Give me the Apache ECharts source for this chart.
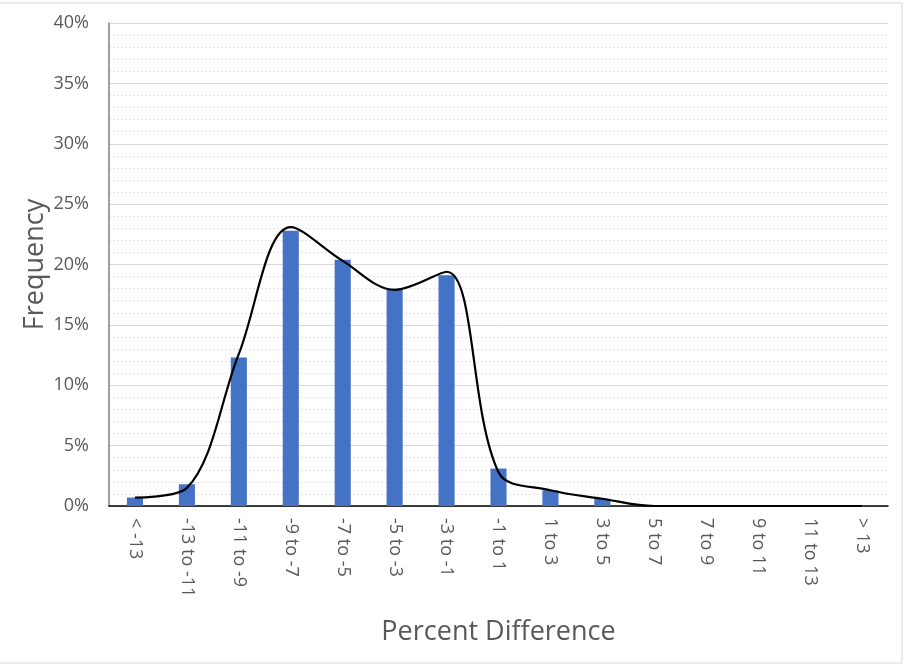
<!DOCTYPE html>
<html>
<head>
<meta charset="utf-8">
<script src="https://cdn.jsdelivr.net/npm/echarts@6/dist/echarts.min.js"></script>
<style>html,body{margin:0;padding:0;background:#fff;}#c{width:904px;height:664px;}</style>
</head>
<body>
<div id="c"></div>
<script>
const categories = ['< -13','-13 to -11','-11 to -9','-9 to -7','-7 to -5','-5 to -3','-3 to -1','-1 to 1','1 to 3','3 to 5','5 to 7','7 to 9','9 to 11','11 to 13','> 13'];
const barValues = [0.7, 1.8, 12.3, 22.8, 20.4, 18.0, 19.1, 3.1, 1.3, 0.6, 0, 0, 0, 0, 0];
const curveValues = [0.7, 1.5, 12.6, 23.1, 20.3, 17.9, 19.4, 2.8, 1.3, 0.6, 0, 0, 0, 0, 0];
const yTicks = [0, 5, 10, 15, 20, 25, 30, 35, 40];

const chart = echarts.init(document.getElementById('c'));
const font = '"Open Sans", "Noto Sans", sans-serif';
chart.setOption({
  animation: false,
  backgroundColor: '#fff',
  textStyle: {fontFamily: font},
  graphic: [{
    type: 'rect', shape: {x: -2, y: 3, width: 904, height: 660},
    style: {fill: 'none', stroke: '#d9d9d9', lineWidth: 1}, silent: true, z: -1
  }],
  grid: {left: 109, right: 16, top: 23, bottom: 158},
  xAxis: {
    type: 'category', data: categories,
    axisLine: {lineStyle: {color: '#000', width: 1.5}},
    axisTick: {show: false},
    axisLabel: {rotate: -90, color: '#595959', fontSize: 18, margin: 12, fontFamily: font},
    name: 'Percent Difference', nameLocation: 'middle', nameGap: 113,
    nameTextStyle: {fontSize: 27, color: '#595959', fontFamily: font}
  },
  yAxis: {
    type: 'value', min: yTicks[0], max: yTicks[yTicks.length - 1], interval: 5,
    axisLine: {show: true, lineStyle: {color: '#7f7f7f', width: 1.5}},
    axisTick: {show: false},
    axisLabel: {formatter: v => v + '%', color: '#595959', fontSize: 18, margin: 20, fontFamily: font},
    splitLine: {lineStyle: {color: '#d9d9d9', width: 1}},
    minorTick: {show: false, splitNumber: 5},
    minorSplitLine: {show: true, lineStyle: {color: '#e3e3e3', type: [2, 2], width: 1}},
    name: 'Frequency', nameLocation: 'middle', nameGap: 60, nameRotate: 90,
    nameMoveOverlap: false,
    nameTextStyle: {fontSize: 27, color: '#595959', fontFamily: font}
  },
  series: [{
    type: 'bar', data: barValues, barWidth: '31%',
    itemStyle: {color: '#4472C4'}
  }, {
    type: 'line', data: curveValues, smooth: 0.35, showSymbol: false,
    lineStyle: {color: '#000', width: 2.2}, z: 5
  }]
});
</script>
</body>
</html>
